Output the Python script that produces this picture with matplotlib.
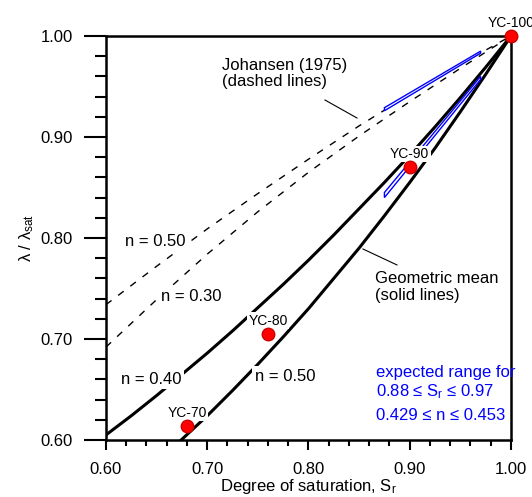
import numpy as np
import matplotlib
matplotlib.use("Agg")
from matplotlib import pyplot as plt

plt.rcParams['font.family'] = ['Liberation Sans', 'DejaVu Sans']
plt.rcParams['mathtext.fontset'] = 'custom'
plt.rcParams['mathtext.rm'] = 'Liberation Sans'
plt.rcParams['mathtext.it'] = 'Liberation Sans:italic'

# geometric mean model (solid lines)
sr_geo_040 = [0.600, 0.625, 0.650, 0.675, 0.700, 0.725, 0.750, 0.775, 0.800,
              0.825, 0.850, 0.875, 0.900, 0.925, 0.950, 0.975, 1.000]
k_geo_040 = [0.605, 0.624, 0.644, 0.665, 0.686, 0.708, 0.731, 0.754, 0.778,
             0.803, 0.829, 0.855, 0.882, 0.910, 0.939, 0.969, 1.000]
sr_geo_050 = [0.670, 0.700, 0.725, 0.750, 0.775, 0.800, 0.825, 0.850,
              0.875, 0.900, 0.925, 0.950, 0.975, 1.000]
k_geo_050 = [0.596, 0.624, 0.649, 0.675, 0.702, 0.730, 0.760, 0.790,
             0.822, 0.855, 0.889, 0.925, 0.962, 1.000]

# Johansen (1975) (dashed lines)
sr_joh = [0.60, 0.65, 0.70, 0.75, 0.80, 0.85, 0.90, 0.95, 1.00]
k_joh_050 = [0.734, 0.772, 0.809, 0.844, 0.878, 0.911, 0.942, 0.972, 1.000]
k_joh_030 = [0.692, 0.739, 0.784, 0.826, 0.865, 0.901, 0.935, 0.968, 1.000]

# expected range bands (0.88 <= Sr <= 0.97)
band_sr = [0.875, 0.970, 0.970, 0.875]
band_geo = [0.845, 0.960, 0.957, 0.840]
band_joh = [0.929, 0.985, 0.983, 0.926]

# samples
names = ['YC-100', 'YC-90', 'YC-80', 'YC-70']
sr_pts = [1.00, 0.90, 0.76, 0.68]
k_pts = [1.00, 0.870, 0.705, 0.614]

fig = plt.figure(figsize=(5.32, 4.97), dpi=100)
ax = fig.add_axes([0.1992, 0.1147, 0.7613, 0.8129])

ax.plot(sr_geo_040, k_geo_040, color='k', lw=2.2, zorder=2)
ax.plot(sr_geo_050, k_geo_050, color='k', lw=2.2, zorder=2)
ax.plot(sr_joh, k_joh_050, color='k', lw=1.0, dashes=(5, 6), zorder=2)
ax.plot(sr_joh, k_joh_030, color='k', lw=1.0, dashes=(5, 6), zorder=2)

ax.fill(band_sr, band_geo, facecolor='white', edgecolor='blue', lw=1.0, zorder=3)
ax.fill(band_sr, band_joh, facecolor='white', edgecolor='blue', lw=1.0, zorder=3)

box = dict(boxstyle='square,pad=0.15', facecolor='white', edgecolor='none')
ax.text(0.6484, 0.797, 'n = 0.50', fontsize=12, ha='center', va='center', bbox=box, zorder=4)
ax.text(0.684, 0.742, 'n = 0.30', fontsize=12, ha='center', va='center', bbox=box, zorder=4)
ax.text(0.645, 0.660, 'n = 0.40', fontsize=12, ha='center', va='center', bbox=box, zorder=4)
ax.text(0.777, 0.663, 'n = 0.50', fontsize=12, ha='center', va='center', bbox=box, zorder=4)

ax.text(0.7146, 0.978, 'Johansen (1975)\n(dashed lines)', fontsize=12, ha='left', va='top',
        linespacing=1.1, zorder=4)
ax.plot([0.8163, 0.8479], [0.9366, 0.9188], color='k', lw=0.8, zorder=4)
ax.text(0.8657, 0.767, 'Geometric mean\n(solid lines)', fontsize=12, ha='left', va='top',
        linespacing=1.1, zorder=4)
ax.plot([0.8538, 0.8874], [0.7891, 0.7733], color='k', lw=0.8, zorder=4)

ax.text(0.8667, 0.667, 'expected range for', fontsize=12, color='blue', ha='left', va='center')
ax.text(0.8667, 0.6475, '0.88 ≤ S$_\\mathregular{r}$ ≤ 0.97', fontsize=12, color='blue',
        ha='left', va='center')
ax.text(0.8667, 0.624, '0.429 ≤ n ≤ 0.453', fontsize=12, color='blue', ha='left', va='center')

ax.plot(sr_pts, k_pts, 'o', color='#ff0000', mec='#cc0000', ms=9, zorder=6, clip_on=False)
for name, x, y in zip(names, sr_pts, k_pts):
    ax.annotate(name, (x, y), xytext=(0, 4.5), textcoords='offset points', fontsize=10,
                ha='center', va='bottom', zorder=5,
                bbox=dict(boxstyle='square,pad=0.1', facecolor='white', edgecolor='none'))

ax.set_xlim(0.60, 1.00)
ax.set_ylim(0.60, 1.00)
ax.set_xticks(np.arange(0.60, 1.001, 0.10))
ax.set_yticks(np.arange(0.60, 1.001, 0.10))
ax.set_xticks(np.arange(0.60, 1.001, 0.02), minor=True)
ax.set_yticks(np.arange(0.60, 1.001, 0.02), minor=True)
ax.xaxis.set_major_formatter(matplotlib.ticker.FormatStrFormatter('%.2f'))
ax.yaxis.set_major_formatter(matplotlib.ticker.FormatStrFormatter('%.2f'))
ax.tick_params(axis='both', which='both', direction='out', labelsize=12, width=1.5)
ax.tick_params(axis='x', which='major', length=7.5, pad=8)
ax.tick_params(axis='x', which='minor', length=4)
ax.tick_params(axis='y', which='major', length=16, pad=8)
ax.tick_params(axis='y', which='minor', length=8)
for s in ax.spines.values():
    s.set_linewidth(1.8)

ax.set_xlabel('Degree of saturation, S$_\\mathregular{r}$', fontsize=12)
ax.set_ylabel('λ / λ$_\\mathregular{sat}$', fontsize=12)
ax.xaxis.set_label_coords(0.5, -0.0916)
ax.yaxis.set_label_coords(-0.172, 0.5)

fig.savefig('out.png', dpi=100)
